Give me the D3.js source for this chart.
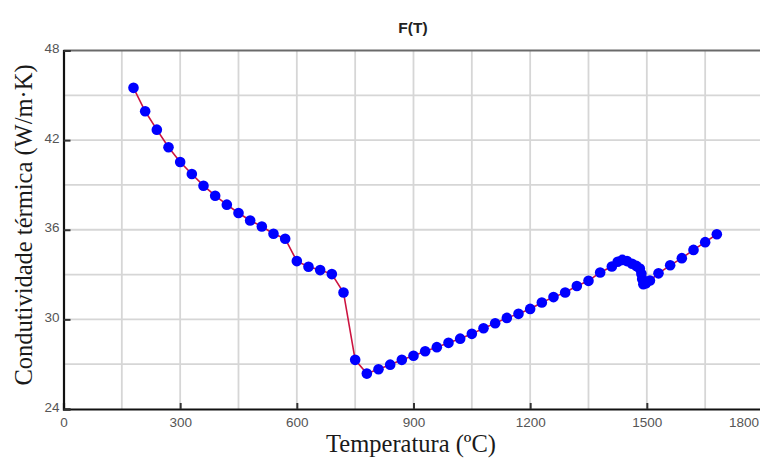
<!DOCTYPE html>
<html><head><meta charset="utf-8">
<script src="https://cdn.jsdelivr.net/npm/d3@7"></script>
<style>body{margin:0;background:#fff}svg{display:block}</style>
</head><body><svg id="c" width="760" height="459"></svg>
<script>
const temps = [180,210,240,270,300,330,360,390,420,450,480,510,540,570,600,
  630,660,690,720,750,780,810,840,870,900,930,960,990,1020,1050,1080,1110,1140,
  1170,1200,1230,1260,1290,1320,1350,1380,1410,1425,1437,1449,1462,1473,1482,
  1486,1488,1491,1498,1508,1530,1560,1590,1620,1650,1680];
const conductivity = [45.5,43.93,42.70,41.52,40.54,39.73,38.95,38.28,37.68,37.12,36.62,36.22,35.73,35.40,33.90,
  33.52,33.30,33.03,31.80,27.29,26.37,26.66,26.97,27.29,27.56,27.87,28.14,28.43,28.71,29.03,29.41,29.74,30.10,
  30.37,30.70,31.13,31.49,31.80,32.23,32.58,33.14,33.54,33.86,33.98,33.90,33.72,33.58,33.40,
  33.05,32.70,32.35,32.42,32.60,33.08,33.62,34.10,34.65,35.17,35.70];
const xTicks = [0,300,600,900,1200,1500,1800];
const xGrid = [150,300,450,600,750,900,1050,1200,1350,1500,1650];
const yTicks = [24,30,36,42,48];
const yGrid = [27,30,33,36,39,42,45];
const title = "F(T)";
const xTitle = "Temperatura (ºC)";
const yTitle = "Condutividade térmica (W/m·K)";

const svg = d3.select("#c");
const x = d3.scaleLinear().domain([0,1800]).range([63.5,763.5]);
const y = d3.scaleLinear().domain([24,48]).range([409,50.5]);

// grid
svg.append("g").selectAll("line").data(xGrid).join("line")
  .attr("x1",d=>x(d)).attr("x2",d=>x(d)).attr("y1",y(48)).attr("y2",y(24))
  .attr("stroke","#d6d6d6").attr("stroke-width",1.8);
svg.append("g").selectAll("line").data(yGrid).join("line")
  .attr("x1",x(0)).attr("x2",x(1800)).attr("y1",d=>y(d)).attr("y2",d=>y(d))
  .attr("stroke","#d6d6d6").attr("stroke-width",1.8);

// top border
svg.append("line").attr("x1",x(0)).attr("x2",x(1800)).attr("y1",y(48)).attr("y2",y(48))
  .attr("stroke","#6a6a6a").attr("stroke-width",2);

// axes
const xa = svg.append("g").attr("transform",`translate(0,${y(24)})`)
  .call(d3.axisBottom(x).tickValues(xTicks).tickSize(-6).tickPadding(8).tickFormat(d3.format("d")));
const ya = svg.append("g").attr("transform",`translate(${x(0)},0)`)
  .call(d3.axisLeft(y).tickValues(yTicks).tickSize(-7).tickPadding(4).tickFormat(d3.format("d")));
[xa,ya].forEach(a=>{
  a.select(".domain").attr("stroke","#111").attr("stroke-width",2.2);
  a.selectAll(".tick line").attr("stroke","#333").attr("stroke-width",2);
  a.selectAll(".tick text").attr("fill","#555").style("font-family","Liberation Sans, Arial, sans-serif").style("font-size","13.5px");
});
ya.selectAll(".tick text").attr("dy","0.15em");
// keep last x label inside the picture
xa.selectAll(".tick").filter(d=>d===1800).select("text")
  .attr("text-anchor","start").attr("x",-35);

// line + markers
const line = d3.line().x((d,i)=>x(temps[i])).y(d=>y(d));
svg.append("path").datum(conductivity).attr("d",line)
  .attr("fill","none").attr("stroke","#cc1440").attr("stroke-width",1.6);
svg.append("g").selectAll("circle").data(conductivity).join("circle")
  .attr("cx",(d,i)=>x(temps[i])).attr("cy",d=>y(d)).attr("r",5.3)
  .attr("fill","#0000ff");

// titles
svg.append("text").attr("x",413).attr("y",33).attr("text-anchor","middle")
  .style("font-family","Liberation Sans Narrow, Arial Narrow, sans-serif").style("font-weight","bold")
  .style("font-size","15.5px").attr("fill","#222").text(title);
svg.append("text").attr("x",411).attr("y",452).attr("text-anchor","middle")
  .style("font-family","Liberation Serif, Times New Roman, serif").style("font-size","24.5px")
  .attr("fill","#1a1a1a").text(xTitle);
svg.append("text").attr("transform","translate(32,225) rotate(-90)").attr("text-anchor","middle")
  .style("font-family","Liberation Serif, Times New Roman, serif").style("font-size","24.5px")
  .attr("fill","#1a1a1a").text(yTitle);
</script></body></html>
